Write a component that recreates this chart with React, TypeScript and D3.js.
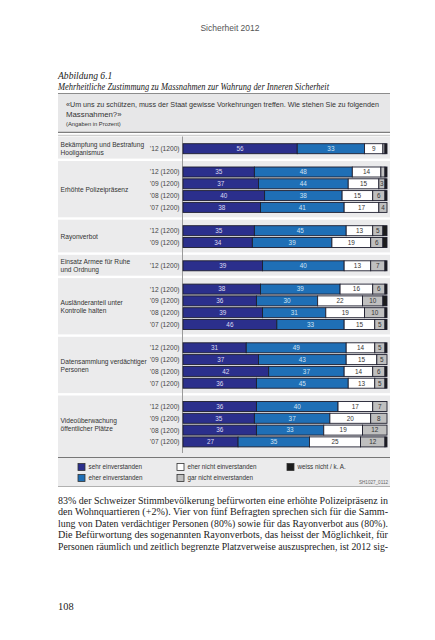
import React from "react";
import * as d3 from "d3";

const groupLabels: string[][] = [
  ["Bekämpfung und Bestrafung", "Hooliganismus"],
  ["Erhöhte Polizeipräsenz"],
  ["Rayonverbot"],
  ["Einsatz Armee für Ruhe", "und Ordnung"],
  ["Ausländeranteil unter", "Kontrolle halten"],
  ["Datensammlung verdächtiger", "Personen"],
  ["Videoüberwachung", "öffentlicher Plätze"],
];
const groupYears: string[][] = [
  ["’12"],
  ["’12", "’09", "’08", "’07"],
  ["’12", "’09"],
  ["’12"],
  ["’12", "’09", "’08", "’07"],
  ["’12", "’09", "’08", "’07"],
  ["’12", "’09", "’08", "’07"],
];
const sampleSize = 1200;

const sehr = [56, 35, 37, 40, 38, 35, 34, 39, 38, 36, 39, 46, 31, 37, 42, 36, 36, 35, 36, 27];
const eher = [33, 48, 44, 38, 41, 45, 39, 40, 39, 30, 31, 33, 49, 43, 37, 45, 40, 37, 33, 35];
const eherNicht = [9, 14, 15, 15, 17, 13, 19, 13, 16, 22, 19, 15, 14, 15, 14, 13, 17, 20, 19, 25];
const garNicht = [1, 2, 3, 6, 4, 5, 6, 7, 6, 10, 10, 5, 5, 5, 6, 5, 7, 8, 12, 12];
const weissNicht = [1, 1, 1, 1, 0, 2, 2, 1, 1, 2, 1, 1, 1, 0, 1, 1, 0, 0, 0, 1];

const seriesKeys = ["sehr", "eher", "eherNicht", "garNicht", "weissNicht"];
const seriesNames = [
  "sehr einverstanden",
  "eher einverstanden",
  "eher nicht einverstanden",
  "gar nicht einverstanden",
  "weiss nicht / k. A.",
];
const seriesColors = ["#2b2f8c", "#1f6fb6", "#ffffff", "#bfbfbf", "#1c1c1c"];
const labelColors = ["#dcdcf2", "#cfe3f4", "#333333", "#333333", "#ffffff"];
const labelMin = [3, 3, 3, 3, 100];

const pageHeader = "Sicherheit 2012";
const figTitle1 = "Abbildung 6.1";
const figTitle2 = "Mehrheitliche Zustimmung zu Massnahmen zur Wahrung der Inneren Sicherheit";
const question1 = "«Um uns zu schützen, muss der Staat gewisse Vorkehrungen treffen. Wie stehen Sie zu folgenden";
const question2 = "Massnahmen?»";
const unitNote = "(Angaben in Prozent)";
const sourceCode = "SH1027_0112";
const bodyLines = [
  "83% der Schweizer Stimmbevölkerung befürworten eine erhöhte Polizeipräsenz in",
  "den Wohnquartieren (+2%). Vier von fünf Befragten sprechen sich für die Samm-",
  "lung von Daten verdächtiger Personen (80%) sowie für das Rayonverbot aus (80%).",
  "Die Befürwortung des sogenannten Rayonverbots, das heisst der Möglichkeit, für",
  "Personen räumlich und zeitlich begrenzte Platzverweise auszusprechen, ist 2012 sig-",
];
const pageNumber = "108";

const SANS = "'Liberation Sans', Arial, Helvetica, sans-serif";
const SERIF = "'Liberation Serif', 'DejaVu Serif', serif";

export default function App() {
  const panelX0 = 58;
  const panelX1 = 390;
  const chartTop = 136.5;
  const padTop = 6.3;
  const padBottom = 5.2;
  const pitch = 11.8;
  const barH = 10;
  const axisX = 182.5;

  const x = d3.scaleLinear().domain([0, 100]).range([183, 387]);

  const rows: any[] = [];
  let idx = 0;
  groupYears.forEach((ys, g) => {
    ys.forEach((yr, r) => {
      rows.push({
        g,
        r,
        year: yr,
        sehr: sehr[idx],
        eher: eher[idx],
        eherNicht: eherNicht[idx],
        garNicht: garNicht[idx],
        weissNicht: weissNicht[idx],
      });
      idx++;
    });
  });

  const groupTop: number[] = [];
  const groupBottom: number[] = [];
  let cur = chartTop;
  groupYears.forEach((ys) => {
    groupTop.push(cur);
    cur += padTop + ys.length * pitch + padBottom;
    groupBottom.push(cur);
  });
  const chartBottom = cur;
  rows.forEach((row) => {
    row.cy = groupTop[row.g] + padTop + pitch * row.r + pitch / 2;
  });

  const stack = d3.stack().keys(seriesKeys);
  const stacked = stack(rows as any);

  const legendY0 = chartBottom + 4.5;
  const legendCols = [78, 177, 287];
  const legendPos = [
    [0, 0],
    [0, 1],
    [1, 0],
    [1, 1],
    [2, 0],
  ];

  return (
    <svg
      width={435}
      height={640}
      style={{ position: "absolute", left: 0, top: 0, background: "#fff" }}
    >
      <text x={230} y={31} textAnchor="middle" fontFamily={SANS} fontSize={8.5} fill="#555">
        {pageHeader}
      </text>
      <text x={58} y={78.5} fontFamily={SERIF} fontStyle="italic" fontSize={9.6} fill="#222">
        {figTitle1}
      </text>
      <text
        x={58}
        y={89.5}
        fontFamily={SERIF}
        fontStyle="italic"
        fontSize={9.6}
        fill="#222"
        textLength={271}
        lengthAdjust="spacingAndGlyphs"
      >
        {figTitle2}
      </text>

      <rect x={panelX0} y={93.5} width={panelX1 - panelX0} height={38.5} fill="#e7e7e8" />
      <line x1={panelX0} x2={panelX1} y1={93.5} y2={93.5} stroke="#8c8c8c" strokeWidth={1} />
      <text
        x={66}
        y={107}
        fontFamily={SANS}
        fontSize={7.8}
        fill="#333"
        textLength={313}
        lengthAdjust="spacingAndGlyphs"
      >
        {question1}
      </text>
      <text x={66} y={116.5} fontFamily={SANS} fontSize={7.8} fill="#333">
        {question2}
      </text>
      <text x={66} y={126.3} fontFamily={SANS} fontSize={5.8} fill="#333">
        {unitNote}
      </text>

      <rect x={panelX0} y={chartTop} width={panelX1 - panelX0} height={486 - chartTop} fill="#ebebec" />
      <line x1={panelX0} x2={panelX1} y1={132.3} y2={132.3} stroke="#7e7e7e" strokeWidth={1.2} />
      <line x1={panelX0} x2={panelX1} y1={135.3} y2={135.3} stroke="#b5b5b5" strokeWidth={0.8} />

      {groupBottom.slice(0, -1).map((gb, i) => (
        <rect key={"sep" + i} x={panelX0} y={gb - 1.2} width={panelX1 - panelX0} height={2.4} fill="#ffffff" />
      ))}

      <line x1={axisX} x2={axisX} y1={chartTop} y2={chartBottom} stroke="#9a9a9a" strokeWidth={1} />

      {groupLabels.map((lines, g) => {
        const n = groupYears[g].length;
        const firstCy = groupTop[g] + padTop + pitch / 2;
        const center = firstCy + ((n - 1) * pitch) / 2;
        const lh = 8;
        return (
          <text key={"gl" + g} fontFamily={SANS} fontSize={6.6} fill="#333">
            {lines.map((l, i) => (
              <tspan key={i} x={60.5} y={center + (i - (lines.length - 1) / 2) * lh + 2.3}>
                {l}
              </tspan>
            ))}
          </text>
        );
      })}

      {rows.map((row, i) => (
        <text
          key={"yl" + i}
          x={179.5}
          y={row.cy + 2.4}
          textAnchor="end"
          fontFamily={SANS}
          fontSize={6.6}
          fill="#444"
        >
          {`${row.year} (${sampleSize})`}
        </text>
      ))}

      {stacked.map((s: any, si: number) => (
        <g key={"s" + si}>
          {s.map((d: any, ri: number) => {
            const w = x(d[1]) - x(d[0]);
            if (w <= 0) return null;
            return (
              <rect
                key={ri}
                x={x(d[0])}
                y={rows[ri].cy - barH / 2}
                width={w}
                height={barH}
                fill={seriesColors[si]}
                stroke="#1e1e2e"
                strokeWidth={0.9}
              />
            );
          })}
        </g>
      ))}

      {stacked.map((s: any, si: number) => (
        <g key={"l" + si}>
          {s.map((d: any, ri: number) => {
            const v = d[1] - d[0];
            if (v < labelMin[si]) return null;
            return (
              <text
                key={ri}
                x={(x(d[0]) + x(d[1])) / 2}
                y={rows[ri].cy + 2.3}
                textAnchor="middle"
                fontFamily={SANS}
                fontSize={6.4}
                fill={labelColors[si]}
              >
                {v}
              </text>
            );
          })}
        </g>
      ))}

      <line x1={panelX0} x2={panelX1} y1={legendY0} y2={legendY0} stroke="#777" strokeWidth={1} />
      {seriesNames.map((name, i) => {
        const [c, r] = legendPos[i];
        const sx = legendCols[c];
        const sy = legendY0 + 6 + r * 11;
        return (
          <g key={"lg" + i}>
            <rect x={sx} y={sy} width={7} height={7} fill={seriesColors[i]} stroke="#333" strokeWidth={0.8} />
            <text x={sx + 10.5} y={sy + 5.8} fontFamily={SANS} fontSize={6.3} fill="#333">
              {name}
            </text>
          </g>
        );
      })}
      <text x={388} y={483.5} textAnchor="end" fontFamily={SANS} fontSize={4.6} fill="#666">
        {sourceCode}
      </text>
      <line x1={panelX0} x2={panelX1} y1={486.5} y2={486.5} stroke="#b0b0b0" strokeWidth={1} />

      {bodyLines.map((l, i) => (
        <text
          key={"b" + i}
          x={58}
          y={503.5 + i * 11.55}
          fontFamily={SERIF}
          fontSize={10.4}
          fill="#222"
          textLength={330}
          lengthAdjust="spacingAndGlyphs"
        >
          {l}
        </text>
      ))}
      <text x={58} y={609.5} fontFamily={SERIF} fontSize={10.4} fill="#222">
        {pageNumber}
      </text>
    </svg>
  );
}
